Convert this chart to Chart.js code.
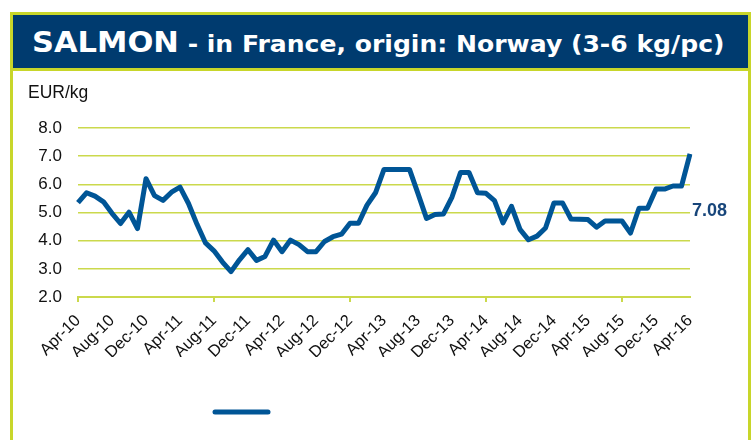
<!DOCTYPE html>
<html>
<head>
<meta charset="utf-8">
<script src="https://cdn.jsdelivr.net/npm/chart.js@4.4.1/dist/chart.umd.min.js"></script>
<style>
  html, body { margin: 0; padding: 0; background: #fff; width: 753px; height: 440px; overflow: hidden; }
  .frame { position: absolute; left: 10px; top: 12px; width: 735px; height: 460px; border: 3px solid #c8d62a; }
  .head { position: absolute; left: 0; top: 0; width: 735px; height: 53px; background: #003b6f; border-bottom: 3px solid #c8d62a; }
  .head div { position: absolute; left: 19px; top: 12px; line-height: 31px; color: #fff; font-family: "DejaVu Sans", Verdana, sans-serif; font-weight: bold; white-space: nowrap; transform: scaleX(1.09); transform-origin: left center; }
  .big { font-size: 28px; }
  .small { font-size: 23px; }
  #salmonChart { position: absolute; left: 13px; top: 71px; }
</style>
</head>
<body>
<div class="frame">
  <div class="head"><div><span class="big">SALMON</span><span class="small"> - in France, origin: Norway (3-6 kg/pc)</span></div></div>
</div>
<canvas id="salmonChart" width="735" height="369"></canvas>
<script>
    // monthly prices, Apr-10 .. Apr-16
    const months = [
        'Apr-10','May-10','Jun-10','Jul-10','Aug-10','Sep-10','Oct-10','Nov-10','Dec-10',
        'Jan-11','Feb-11','Mar-11','Apr-11','May-11','Jun-11','Jul-11','Aug-11','Sep-11','Oct-11','Nov-11','Dec-11',
        'Jan-12','Feb-12','Mar-12','Apr-12','May-12','Jun-12','Jul-12','Aug-12','Sep-12','Oct-12','Nov-12','Dec-12',
        'Jan-13','Feb-13','Mar-13','Apr-13','May-13','Jun-13','Jul-13','Aug-13','Sep-13','Oct-13','Nov-13','Dec-13',
        'Jan-14','Feb-14','Mar-14','Apr-14','May-14','Jun-14','Jul-14','Aug-14','Sep-14','Oct-14','Nov-14','Dec-14',
        'Jan-15','Feb-15','Mar-15','Apr-15','May-15','Jun-15','Jul-15','Aug-15','Sep-15','Oct-15','Nov-15','Dec-15',
        'Jan-16','Feb-16','Mar-16','Apr-16'
    ];
    const prices = [
        5.35, 5.70, 5.58, 5.38, 4.97, 4.61, 5.01, 4.43, 6.20, 5.60, 5.43, 5.72,
        5.90, 5.32, 4.58, 3.92, 3.64, 3.24, 2.90, 3.32, 3.68, 3.30, 3.44, 4.02,
        3.61, 4.02, 3.86, 3.61, 3.61, 3.97, 4.14, 4.23, 4.62, 4.62, 5.26, 5.70,
        6.53, 6.53, 6.53, 6.53, 5.67, 4.79, 4.93, 4.95, 5.55, 6.42, 6.42, 5.70,
        5.68, 5.42, 4.63, 5.22, 4.40, 4.03, 4.16, 4.45, 5.34, 5.34, 4.77, 4.76,
        4.75, 4.48, 4.70, 4.70, 4.70, 4.27, 5.15, 5.15, 5.83, 5.83, 5.94, 5.94,
        7.08
    ];
    const yTicks = [2, 3, 4, 5, 6, 7, 8];
    const labelEvery = 4;

    const lineBlue = '#005596';
    const green = '#cbd94c';
    const font = '"Liberation Sans", Arial, sans-serif';

    // last value label + legend sample (legend has no text in the original)
    const extras = {
        id: 'extras',
        afterDatasetsDraw(chart) {
            const ctx = chart.ctx;
            const meta = chart.getDatasetMeta(0);
            const last = meta.data[meta.data.length - 1];
            const area = chart.chartArea;
            ctx.save();
            ctx.font = 'bold 18px ' + font;
            ctx.fillStyle = '#17457a';
            ctx.textAlign = 'left';
            ctx.textBaseline = 'middle';
            ctx.fillText(prices[prices.length - 1].toFixed(2), last.x + 2, last.y + 57);

            ctx.strokeStyle = chart.data.datasets[0].borderColor;
            ctx.lineWidth = 5;
            ctx.lineCap = 'round';
            ctx.beginPath();
            ctx.moveTo(area.left + 137, area.bottom + 115);
            ctx.lineTo(area.left + 190, area.bottom + 115);
            ctx.stroke();
            ctx.restore();
        }
    };

    const ctx = document.getElementById('salmonChart').getContext('2d');
    new Chart(ctx, {
        type: 'line',
        data: {
            labels: months,
            datasets: [{
                label: 'Salmon',
                data: prices,
                borderColor: lineBlue,
                borderWidth: 5,
                pointRadius: 0,
                tension: 0,
                borderJoinStyle: 'round',
                fill: false
            }]
        },
        options: {
            responsive: false,
            animation: false,
            layout: { padding: { left: 15, right: 58, top: 0, bottom: 83 } },
            plugins: {
                legend: { display: false },
                tooltip: { enabled: false },
                title: {
                    display: true,
                    text: 'EUR/kg',
                    align: 'start',
                    color: '#111',
                    font: { family: font, size: 17.5, weight: 'normal' },
                    padding: { top: 12, bottom: 24 }
                }
            },
            scales: {
                x: {
                    offset: false,
                    afterFit(scale) { scale.height = 60; },
                    grid: {
                        drawOnChartArea: false,
                        drawTicks: true,
                        tickLength: 5,
                        lineWidth: 2,
                        color: c => (c.index % labelEvery === 0 ? green : 'rgba(0,0,0,0)')
                    },
                    border: { display: true, color: green, width: 2 },
                    ticks: {
                        autoSkip: false,
                        maxRotation: 45,
                        minRotation: 45,
                        padding: 9,
                        color: '#111',
                        font: { family: font, size: 16.5 },
                        callback: (v, i) => (i % labelEvery === 0 ? months[i] : null)
                    }
                },
                y: {
                    min: yTicks[0],
                    max: yTicks[yTicks.length - 1],
                    afterFit(scale) { scale.width = 50; },
                    afterBuildTicks(scale) { scale.ticks = yTicks.map(v => ({ value: v })); },
                    grid: { color: green, lineWidth: 1.5, drawTicks: false },
                    border: { display: false },
                    ticks: {
                        padding: 16,
                        color: '#111',
                        font: { family: font, size: 17 },
                        callback: v => Number(v).toFixed(1)
                    }
                }
            }
        },
        plugins: [extras]
    });
</script>
</body>
</html>
